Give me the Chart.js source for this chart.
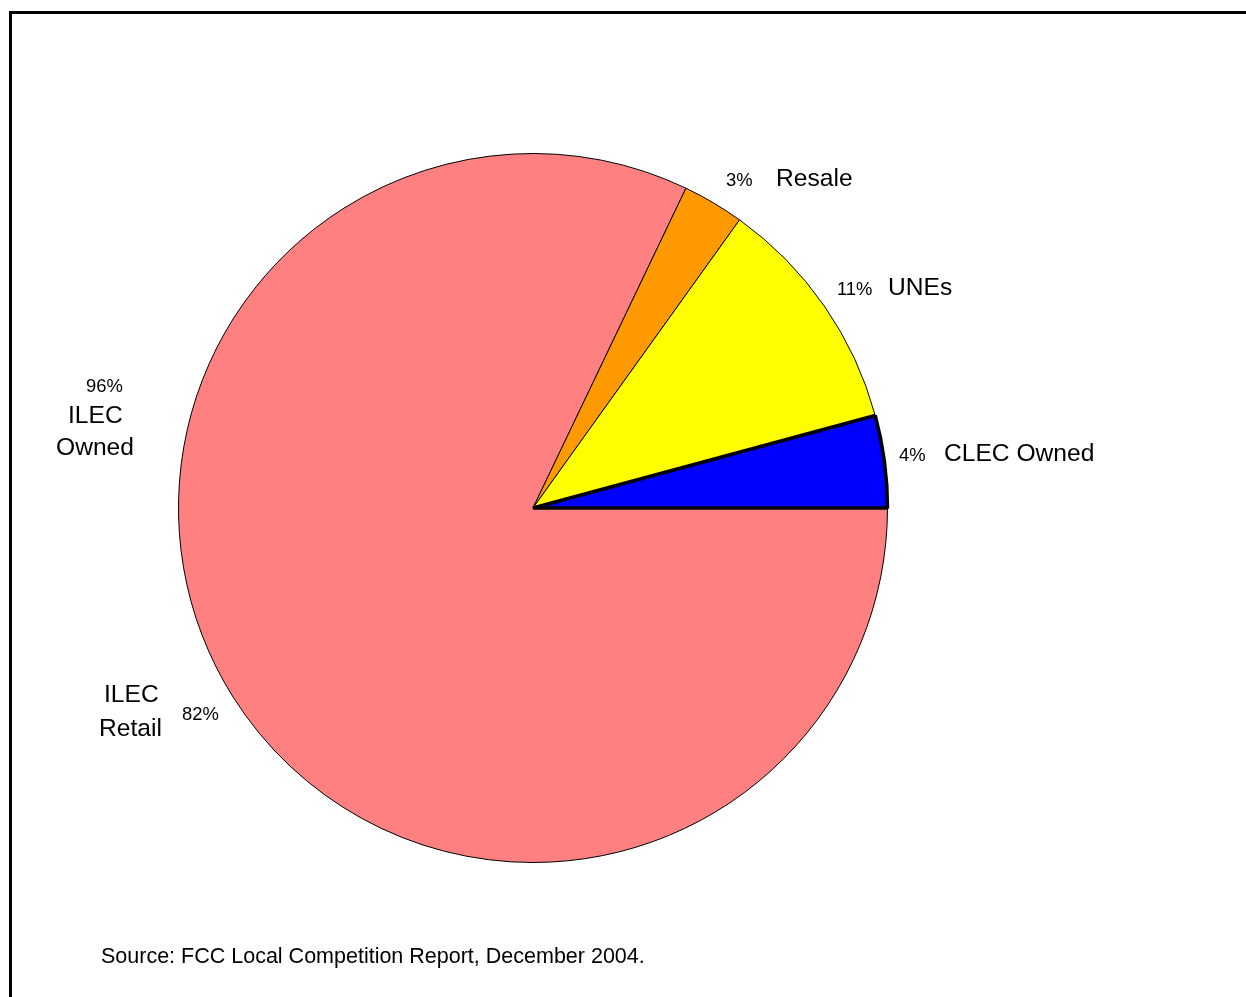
<!DOCTYPE html>
<html>
<head>
<meta charset="utf-8">
<script src="https://cdn.jsdelivr.net/npm/chart.js@4.4.0/dist/chart.umd.min.js"></script>
<style>
  html, body { margin: 0; padding: 0; background: #fff; }
  #wrap { position: absolute; left: 0; top: 0; width: 1246px; height: 997px; }
</style>
</head>
<body>
<div id="wrap"><canvas id="c" width="1246" height="997"></canvas></div>
<script>
// Data (clockwise from 3 o'clock)
const categories = ['ILEC Retail', 'Resale', 'UNEs', 'CLEC Owned'];
const shares = [82.1, 2.8, 10.9, 4.2];
const sliceColors = ['#FF8080', '#FF9900', '#FFFF00', '#0000FF'];
const ilecOwnedParts = ['ILEC Retail', 'Resale', 'UNEs'];
const sourceNote = 'Source: FCC Local Competition Report, December 2004.';

// Layout of the annotation texts (pixels)
const labelLayout = {
  'Resale':      { pct: [726, 186], name: [['Resale', 776, 186]] },
  'UNEs':        { pct: [837, 295], name: [['UNEs', 888, 295]] },
  'CLEC Owned':  { pct: [899, 461], name: [['CLEC Owned', 944, 461]] },
  'ILEC Retail': { pct: [182, 720], name: [['ILEC', 104, 702], ['Retail', 99, 736]] },
  'ILEC Owned':  { pct: [86, 392],  name: [['ILEC', 68, 423], ['Owned', 56, 455]] }
};

const FONT = '"Liberation Sans", Arial, sans-serif';

const annotate = {
  id: 'annotate',
  afterDraw(chart) {
    const ctx = chart.ctx;
    ctx.save();
    // frame
    ctx.fillStyle = '#000';
    ctx.fillRect(9, 11, 3, 1000);
    ctx.fillRect(9, 11, 1250, 3);
    ctx.textBaseline = 'alphabetic';
    ctx.textAlign = 'left';
    const ds = chart.data.datasets[0].data;
    const pctOf = (name) => ds[categories.indexOf(name)];
    const entries = Object.keys(labelLayout).map(k => {
      const v = k === 'ILEC Owned'
        ? ilecOwnedParts.reduce((s, n) => s + pctOf(n), 0)
        : pctOf(k);
      return [k, Math.round(v)];
    });
    for (const [k, v] of entries) {
      const L = labelLayout[k];
      ctx.font = '18.4px ' + FONT;
      ctx.fillText(v + '%', L.pct[0], L.pct[1]);
      ctx.font = '24.6px ' + FONT;
      for (const [t, x, y] of L.name) ctx.fillText(t, x, y);
    }
    ctx.font = '21.5px ' + FONT;
    ctx.fillText(sourceNote, 101, 963);
    ctx.restore();
  }
};

new Chart(document.getElementById('c'), {
  type: 'pie',
  data: {
    labels: categories,
    datasets: [{
      data: shares,
      backgroundColor: sliceColors,
      borderColor: '#000',
      borderWidth: [1, 1, 1, 3.5],
      borderJoinStyle: 'bevel'
    }]
  },
  options: {
    responsive: false,
    animation: false,
    rotation: 90,
    radius: 354.5,
    layout: { padding: { left: 20, right: 200, top: 29, bottom: 10 } },
    plugins: { legend: { display: false }, tooltip: { enabled: false } }
  },
  plugins: [annotate]
});
</script>
</body>
</html>
